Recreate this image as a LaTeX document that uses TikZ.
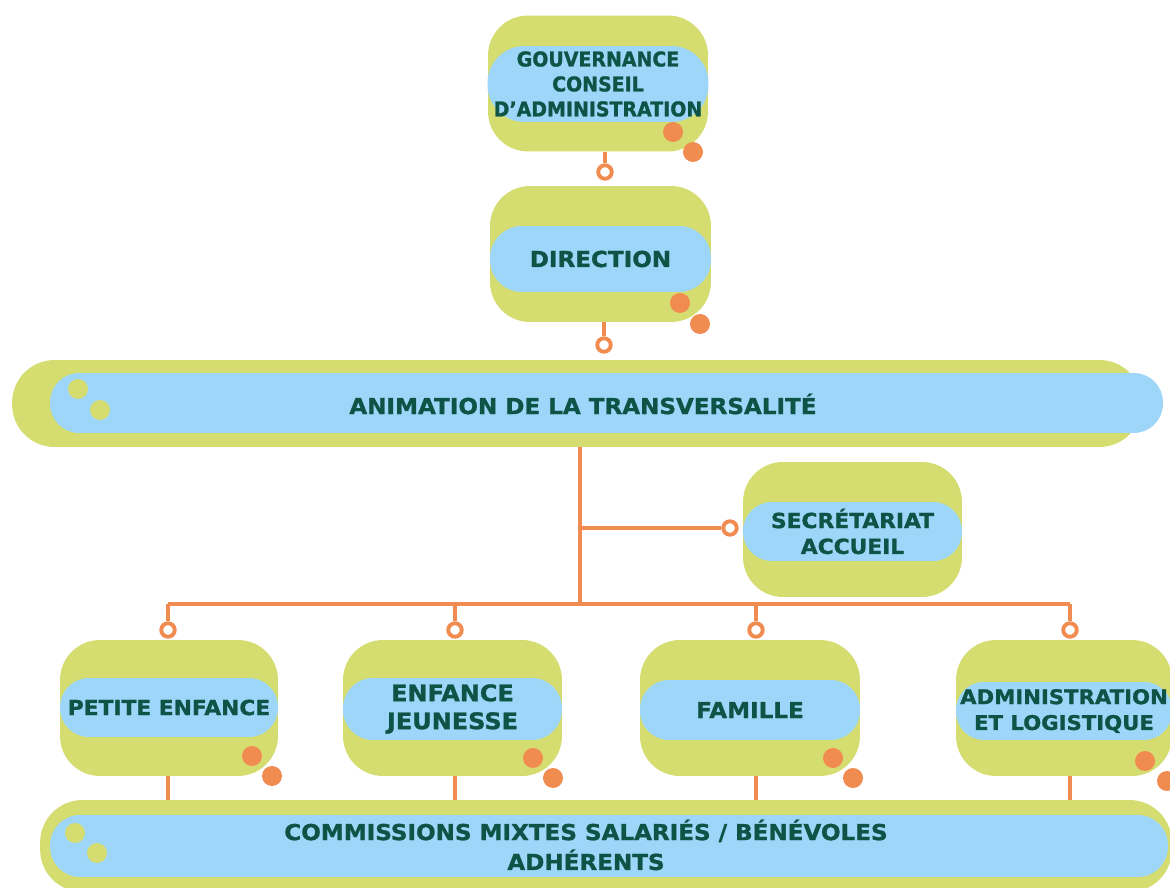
\documentclass[tikz,border=0pt]{standalone}
\usepackage{fontspec}
\setmainfont{DejaVu Sans}[FakeStretch=1.05, BoldFeatures={FakeBold=1.2}]
\usepackage{xcolor}
\usepackage{tikz}
\usetikzlibrary{positioning}
\definecolor{boxgreen}{RGB}{213,221,112}
\definecolor{pillblue}{RGB}{158,214,249}
\definecolor{lineorange}{RGB}{241,140,80}
\definecolor{textteal}{RGB}{14,84,70}

\begin{document}
\begin{tikzpicture}[x=0.02cm, y=-0.02cm,
greenbox/.style={rectangle, rounded corners=0.8cm, fill=boxgreen, minimum width=4.4cm, minimum height=2.72cm, inner sep=0pt},
bluepill/.style={rectangle, rounded corners=#1, fill=pillblue, inner sep=0pt, text=textteal, align=center},
bluepill/.default=0.58cm,
txt/.style 2 args={font=\bfseries\fontsize{#1}{#2}\selectfont},
bandtext/.style={text=textteal, align=center, inner sep=0pt},
dot/.style={circle, fill=lineorange, minimum size=0.4cm, inner sep=0pt},
ydot/.style={circle, fill=boxgreen, minimum size=0.4cm, inner sep=0pt},
ring/.style={circle, draw=lineorange, line width=2.2pt, fill=white, minimum size=0.27cm, inner sep=0pt},
link/.style={draw=lineorange, line width=2.2pt}]

\fill[white] (0,0) rectangle (1170,888);
\clip (0,0) rectangle (1170,888);

\node[greenbox] at (598,83.5) (gov) {};
\node[bluepill=0.74cm, font=\bfseries\fontsize{11.6}{14.2}\selectfont\addfontfeature{FakeStretch=0.93}, minimum width=4.42cm, minimum height=1.52cm] at (598,84) (govp) {GOUVERNANCE\\CONSEIL\\D’ADMINISTRATION};
\node[dot] at (673,132) (govd1) {};
\node[dot] at (693,152) (govd2) {};

\node[greenbox, minimum width=4.42cm] at (600.5,254) (dir) {};
\node[bluepill=0.64cm, txt={12.5}{15}, minimum width=4.42cm, minimum height=1.32cm] at (600.5,259) (dirp) {DIRECTION};
\node[dot] at (680,303) (dird1) {};
\node[dot] at (700,324) (dird2) {};

\node[greenbox, rounded corners=0.85cm, minimum width=22.6cm, minimum height=1.74cm] at (577,403.5) (anim) {};
\node[bluepill, minimum width=22.26cm, minimum height=1.2cm] at (606.5,403) (animp) {};
\node[bandtext, txt={12.5}{15}] at (583,404) (animt) {ANIMATION DE LA TRANSVERSALITÉ};
\node[ydot] at (78,389) (animd1) {};
\node[ydot] at (100,410) (animd2) {};

\node[greenbox, minimum width=4.38cm, minimum height=2.7cm] at (852.5,529.5) (sec) {};
\node[bluepill, txt={11.8}{14.7}, minimum width=4.38cm, minimum height=1.18cm] at (852.5,531.5) (secp) {SECRÉTARIAT\\ACCUEIL};

\node[greenbox, minimum width=4.36cm] at (169,708) (pe) {};
\node[bluepill, txt={11.8}{14.7}, minimum width=4.36cm, minimum height=1.18cm] at (169,707.5) (pep) {PETITE ENFANCE};
\node[dot] at (252,756) (ped1) {};
\node[dot] at (272,776) (ped2) {};

\node[greenbox, minimum width=4.38cm] at (452.5,708) (ej) {};
\node[bluepill=0.6cm, txt={13}{15.9}, minimum width=4.38cm, minimum height=1.24cm] at (452.5,709) (ejp) {ENFANCE\\JEUNESSE};
\node[dot] at (533,758) (ejd1) {};
\node[dot] at (553,778) (ejd2) {};

\node[greenbox] at (750,708) (fam) {};
\node[bluepill, txt={12.5}{15}, minimum width=4.4cm, minimum height=1.2cm] at (750,710) (famp) {FAMILLE};
\node[dot] at (833,758) (famd1) {};
\node[dot] at (853,778) (famd2) {};

\node[greenbox, minimum width=4.32cm] at (1064,708) (adm) {};
\node[bluepill=0.56cm, txt={11.5}{14.7}, minimum width=4.32cm, minimum height=1.16cm] at (1064,711) (admp) {ADMINISTRATION\\ET LOGISTIQUE};
\node[dot] at (1145,761) (admd1) {};
\node[dot] at (1167,781) (admd2) {};

\node[greenbox, rounded corners=0.85cm, minimum width=22.64cm, minimum height=1.84cm] at (606,846) (com) {};
\node[bluepill=0.6cm, minimum width=22.36cm, minimum height=1.24cm] at (609,846) (comp) {};
\node[bandtext, txt={12.5}{17}] at (586,845) (comt) {COMMISSIONS MIXTES SALARIÉS / BÉNÉVOLES\\ADHÉRENTS};
\node[ydot] at (75,833) (comd1) {};
\node[ydot] at (97,853) (comd2) {};

\coordinate (hub) at (580,528);
\coordinate (bar) at (580,604);
\coordinate (barl) at (168,604);
\coordinate (barr) at (1070,604);

\node[ring] at (605,172) (r1) {};
\node[ring] at (604,345) (r2) {};
\node[ring] at (730,528) (rsec) {};
\node[ring] at (168,630) (rpe) {};
\node[ring] at (455,630) (rej) {};
\node[ring] at (756,630) (rfam) {};
\node[ring] at (1070,630) (radm) {};

\draw[link] (gov.south -| r1) -- (r1.north);
\draw[link] (dir.south -| r2) -- (r2.north);
\draw[link] (anim.south -| bar) -- (bar);
\draw[link] (hub) -- (rsec.west);
\draw[link] (barl) -- (barr);
\draw[link] (barl) -- (rpe.north);
\draw[link] (bar -| rej) -- (rej.north);
\draw[link] (bar -| rfam) -- (rfam.north);
\draw[link] (barr) -- (radm.north);
\draw[link] (pe.south -| rpe) -- (com.north -| rpe);
\draw[link] (ej.south -| rej) -- (com.north -| rej);
\draw[link] (fam.south -| rfam) -- (com.north -| rfam);
\draw[link] (adm.south -| radm) -- (com.north -| radm);

\end{tikzpicture}
\end{document}
